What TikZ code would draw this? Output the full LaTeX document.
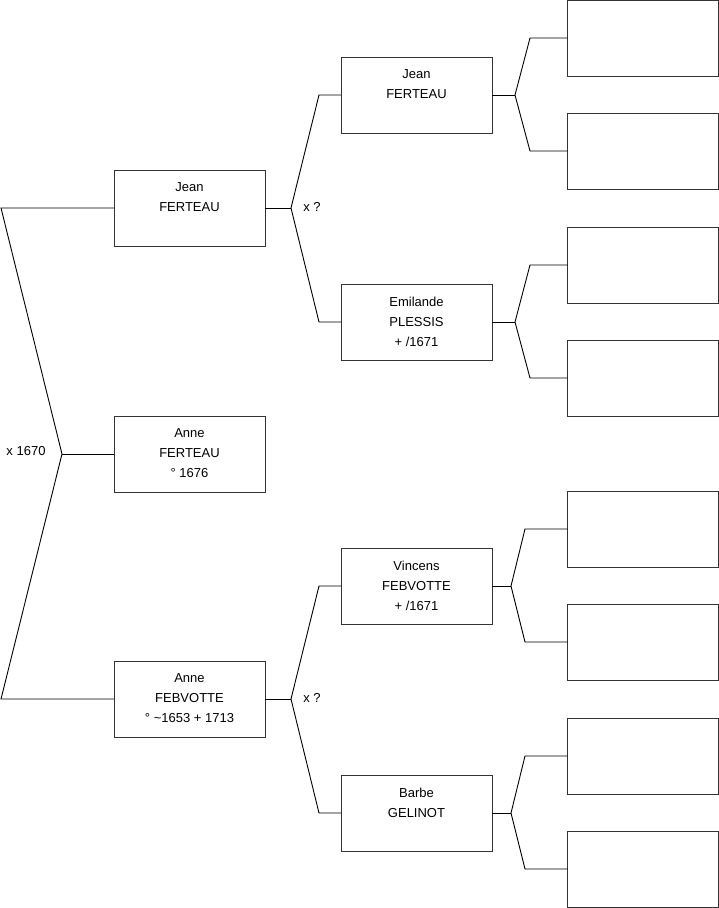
\documentclass[tikz,border=0pt]{standalone}
\usepackage{fontspec}
\setmainfont{Liberation Sans}
\begin{document}
\begin{tikzpicture}[x=1pt,y=-1pt,
  box/.style={draw=black!80,line width=0.9pt,minimum width=151pt,minimum height=76pt,inner sep=0pt,outer sep=0pt},
  txt/.style={anchor=north,align=center,inner sep=0pt,font=\fontsize{13}{20}\selectfont},
  lbl/.style={inner sep=0pt,font=\fontsize{13}{20}\selectfont},
  conn/.style={draw=black,line width=0.9pt,line join=miter}]
\useasboundingbox (0,0) rectangle (719,908);
% generation 1
\node[box] (b1) at (189.5,208) {};
\node[box] (b2) at (189.5,454) {};
\node[box] (b3) at (189.5,699) {};
% generation 2
\node[box] (c1) at (416.5,95) {};
\node[box] (c2) at (416.5,322) {};
\node[box] (c3) at (416.5,586) {};
\node[box] (c4) at (416.5,813) {};
% generation 3
\node[box] (d1) at (643,38) {};
\node[box] (d2) at (643,151) {};
\node[box] (d3) at (643,265) {};
\node[box] (d4) at (643,378) {};
\node[box] (d5) at (643,529) {};
\node[box] (d6) at (643,642) {};
\node[box] (d7) at (643,756) {};
\node[box] (d8) at (643,869) {};
% texts
\node[txt] (t1) at (189.5,182.6) {Jean\\FERTEAU};
\node[txt] (t2) at (189.5,428.6) {Anne\\FERTEAU\\° 1676};
\node[txt] (t3) at (189.5,673.6) {Anne\\FEBVOTTE\\° \textasciitilde1653 + 1713};
\node[txt] (t4) at (416.5,69.6) {Jean\\FERTEAU};
\node[txt] (t5) at (416.5,296.6) {Emilande\\PLESSIS\\+ /1671};
\node[txt] (t6) at (416.5,560.6) {Vincens\\FEBVOTTE\\+ /1671};
\node[txt] (t7) at (416.5,787.6) {Barbe\\GELINOT};
% labels
\node[lbl] (l1) at (26,451.5) {x 1670};
\node[lbl] (l2) at (312,207) {x ?};
\node[lbl] (l3) at (312,697.5) {x ?};
% junction coordinates
\coordinate (a1) at (1,208);
\coordinate (m1) at (62,454);
\coordinate (a2) at (1,699);
\coordinate (m2) at (291,208);
\coordinate (u2) at (319,95);
\coordinate (v2) at (319,322);
\coordinate (m3) at (291,699);
\coordinate (u3) at (319,586);
\coordinate (v3) at (319,813);
\coordinate (m4) at (515,95);
\coordinate (u4) at (530,38);
\coordinate (v4) at (530,151);
\coordinate (m5) at (515,322);
\coordinate (u5) at (530,265);
\coordinate (v5) at (530,378);
\coordinate (m6) at (511,586);
\coordinate (u6) at (525,529);
\coordinate (v6) at (525,642);
\coordinate (m7) at (511,813);
\coordinate (u7) at (525,756);
\coordinate (v7) at (525,869);
% connectors
\draw[conn] (b1.west) -- (a1) -- (m1) -- (a2) -- (b3.west);
\draw[conn] (m1) -- (b2.west);
\draw[conn] (b1.east) -- (m2);
\draw[conn] (c1.west) -- (u2) -- (m2) -- (v2) -- (c2.west);
\draw[conn] (b3.east) -- (m3);
\draw[conn] (c3.west) -- (u3) -- (m3) -- (v3) -- (c4.west);
\draw[conn] (c1.east) -- (m4);
\draw[conn] (d1.west) -- (u4) -- (m4) -- (v4) -- (d2.west);
\draw[conn] (c2.east) -- (m5);
\draw[conn] (d3.west) -- (u5) -- (m5) -- (v5) -- (d4.west);
\draw[conn] (c3.east) -- (m6);
\draw[conn] (d5.west) -- (u6) -- (m6) -- (v6) -- (d6.west);
\draw[conn] (c4.east) -- (m7);
\draw[conn] (d7.west) -- (u7) -- (m7) -- (v7) -- (d8.west);
\end{tikzpicture}
\end{document}
